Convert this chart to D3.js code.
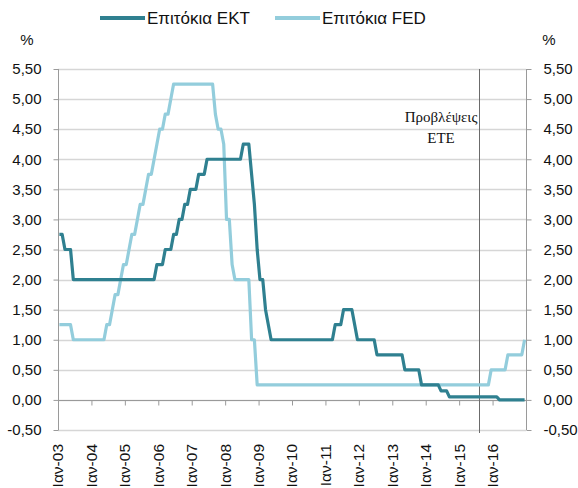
<!DOCTYPE html>
<html>
<head>
<meta charset="utf-8">
<script src="https://cdn.jsdelivr.net/npm/d3@7"></script>
<style>
  html, body { margin: 0; padding: 0; background: #fff; }
  svg { display: block; }
  .lbl { font-family: "Liberation Sans", Arial, sans-serif; }
</style>
</head>
<body>
<svg id="chart" width="578" height="488"></svg>
<script>
// Year tick labels on the category axis (one per January)
const yearLabels = ["Ιαν-03","Ιαν-04","Ιαν-05","Ιαν-06","Ιαν-07","Ιαν-08","Ιαν-09",
                    "Ιαν-10","Ιαν-11","Ιαν-12","Ιαν-13","Ιαν-14","Ιαν-15","Ιαν-16"];

// Y tick values (%)
const yTicks = [-0.5, 0, 0.5, 1, 1.5, 2, 2.5, 3, 3.5, 4, 4.5, 5, 5.5];

// ECB main refinancing rate, monthly Jan 2003 – Dec 2016
const ecbRate = [
  2.75,2.75,2.50,2.50,2.50,2.00,2.00,2.00,2.00,2.00,2.00,2.00, // 2003
  2.00,2.00,2.00,2.00,2.00,2.00,2.00,2.00,2.00,2.00,2.00,2.00, // 2004
  2.00,2.00,2.00,2.00,2.00,2.00,2.00,2.00,2.00,2.00,2.00,2.25, // 2005
  2.25,2.25,2.50,2.50,2.50,2.75,2.75,3.00,3.00,3.25,3.25,3.50, // 2006
  3.50,3.50,3.75,3.75,3.75,4.00,4.00,4.00,4.00,4.00,4.00,4.00, // 2007
  4.00,4.00,4.00,4.00,4.00,4.00,4.25,4.25,4.25,3.75,3.25,2.50, // 2008
  2.00,2.00,1.50,1.25,1.00,1.00,1.00,1.00,1.00,1.00,1.00,1.00, // 2009
  1.00,1.00,1.00,1.00,1.00,1.00,1.00,1.00,1.00,1.00,1.00,1.00, // 2010
  1.00,1.00,1.00,1.25,1.25,1.25,1.50,1.50,1.50,1.50,1.25,1.00, // 2011
  1.00,1.00,1.00,1.00,1.00,1.00,0.75,0.75,0.75,0.75,0.75,0.75, // 2012
  0.75,0.75,0.75,0.75,0.50,0.50,0.50,0.50,0.50,0.50,0.25,0.25, // 2013
  0.25,0.25,0.25,0.25,0.25,0.15,0.15,0.15,0.05,0.05,0.05,0.05, // 2014
  0.05,0.05,0.05,0.05,0.05,0.05,0.05,0.05,0.05,0.05,0.05,0.05, // 2015
  0.05,0.05,0.00,0.00,0.00,0.00,0.00,0.00,0.00,0.00,0.00,0.00  // 2016
];

// Fed funds target rate, monthly Jan 2003 – Dec 2016
const fedRate = [
  1.25,1.25,1.25,1.25,1.25,1.00,1.00,1.00,1.00,1.00,1.00,1.00, // 2003
  1.00,1.00,1.00,1.00,1.00,1.25,1.25,1.50,1.75,1.75,2.00,2.25, // 2004
  2.25,2.50,2.75,2.75,3.00,3.25,3.25,3.50,3.75,3.75,4.00,4.25, // 2005
  4.50,4.50,4.75,4.75,5.00,5.25,5.25,5.25,5.25,5.25,5.25,5.25, // 2006
  5.25,5.25,5.25,5.25,5.25,5.25,5.25,5.25,4.75,4.50,4.50,4.25, // 2007
  3.00,3.00,2.25,2.00,2.00,2.00,2.00,2.00,2.00,1.00,1.00,0.25, // 2008
  0.25,0.25,0.25,0.25,0.25,0.25,0.25,0.25,0.25,0.25,0.25,0.25, // 2009
  0.25,0.25,0.25,0.25,0.25,0.25,0.25,0.25,0.25,0.25,0.25,0.25, // 2010
  0.25,0.25,0.25,0.25,0.25,0.25,0.25,0.25,0.25,0.25,0.25,0.25, // 2011
  0.25,0.25,0.25,0.25,0.25,0.25,0.25,0.25,0.25,0.25,0.25,0.25, // 2012
  0.25,0.25,0.25,0.25,0.25,0.25,0.25,0.25,0.25,0.25,0.25,0.25, // 2013
  0.25,0.25,0.25,0.25,0.25,0.25,0.25,0.25,0.25,0.25,0.25,0.25, // 2014
  0.25,0.25,0.25,0.25,0.25,0.25,0.25,0.25,0.25,0.25,0.25,0.50, // 2015
  0.50,0.50,0.50,0.50,0.50,0.75,0.75,0.75,0.75,0.75,0.75,1.00  // 2016
];

// Month index where the forecast period begins (Aug 2015)
const forecastStart = 151;

const seriesNames = ["Επιτόκια ΕΚΤ", "Επιτόκια FED"];
const seriesColors = ["#2f8090", "#93cddc"];

const svg = d3.select("#chart");
const plotLeft = 58, plotRight = 526, plotTop = 69, plotBottom = 430;
const nMonths = ecbRate.length;

const x = d3.scaleLinear().domain([0, nMonths]).range([plotLeft, plotRight]);
const y = d3.scaleLinear().domain([-0.5, 5.5]).range([plotBottom, plotTop]);
// Greek number style: comma decimal, plain hyphen for negatives
const fmt = v => (v < 0 ? "-" : "") + Math.abs(v).toFixed(2).replace(".", ",");

// horizontal gridlines
svg.append("g").selectAll("line").data(yTicks).join("line")
  .attr("x1", plotLeft).attr("x2", plotRight)
  .attr("y1", d => Math.round(y(d)) + 0.5).attr("y2", d => Math.round(y(d)) + 0.5)
  .attr("stroke", "#d6d6d6").attr("stroke-width", 1.3);

// left axis
const gL = svg.append("g").attr("transform", `translate(${plotLeft + 0.5},0)`)
  .call(d3.axisLeft(y).tickValues(yTicks).tickSize(5).tickPadding(12).tickFormat(fmt));
// right axis
const gR = svg.append("g").attr("transform", `translate(${plotRight + 0.5},0)`)
  .call(d3.axisRight(y).tickValues(yTicks).tickSize(5).tickPadding(12).tickFormat(fmt));
[gL, gR].forEach(g => {
  g.select(".domain").attr("stroke", "#9a9a9a").attr("d",
    `M0,${y(5.5)}V${y(-0.5)}`);
  g.selectAll(".tick line").attr("stroke", "#9a9a9a");
  g.selectAll(".tick text").attr("class", "lbl").attr("font-size", 15).attr("fill", "#111");
});

// category axis along the zero line, labels at the bottom
const yearIdx = yearLabels.map((_, i) => i * 12);
const gX = svg.append("g").attr("transform", `translate(0,${Math.round(y(0)) + 0.5})`)
  .call(d3.axisBottom(x).tickValues(yearIdx).tickSize(5).tickFormat(""));
gX.select(".domain").attr("stroke", "#9a9a9a").attr("d", `M${plotLeft},0H${plotRight}`);
gX.selectAll(".tick line").attr("stroke", "#9a9a9a");

svg.append("g").selectAll("text").data(yearLabels).join("text")
  .attr("class", "lbl")
  .attr("transform", (d, i) => `translate(${x(yearIdx[i])},444) rotate(-90)`)
  .attr("text-anchor", "end").attr("dy", "0.35em")
  .attr("font-size", 15.5).attr("fill", "#111")
  .text(d => d);

// % units
svg.append("text").attr("class", "lbl").attr("x", 27).attr("y", 45)
  .attr("text-anchor", "middle").attr("font-size", 15).attr("fill", "#111").text("%");
svg.append("text").attr("class", "lbl").attr("x", 549).attr("y", 45)
  .attr("text-anchor", "middle").attr("font-size", 15).attr("fill", "#111").text("%");

// forecast divider
svg.append("line")
  .attr("x1", Math.round(x(forecastStart)) + 0.5).attr("x2", Math.round(x(forecastStart)) + 0.5)
  .attr("y1", plotTop).attr("y2", plotBottom + 3)
  .attr("stroke", "#6b6b6b").attr("stroke-width", 1);
const ann = svg.append("text").attr("font-family", "Liberation Serif, 'DejaVu Serif', serif")
  .attr("font-size", 15).attr("fill", "#111").attr("text-anchor", "middle");
ann.append("tspan").attr("x", 441).attr("y", 122).text("Προβλέψεις");
ann.append("tspan").attr("x", 441).attr("y", 143).text("ΕΤΕ");

// series lines
const line = d3.line().x((d, i) => x(i + 0.5)).y(d => y(d)).curve(d3.curveLinear);
[fedRate, ecbRate].forEach((s, k) => {
  svg.append("path").datum(s)
    .attr("fill", "none")
    .attr("stroke", k === 0 ? seriesColors[1] : seriesColors[0])
    .attr("stroke-width", 3.2)
    .attr("stroke-linejoin", "round")
    .attr("d", line);
});

// legend
const legendX = [100, 275];
seriesNames.forEach((name, i) => {
  svg.append("line").attr("x1", legendX[i]).attr("x2", legendX[i] + 45)
    .attr("y1", 18).attr("y2", 18)
    .attr("stroke", seriesColors[i]).attr("stroke-width", 4);
  svg.append("text").attr("class", "lbl").attr("x", legendX[i] + 47).attr("y", 24)
    .attr("font-size", 17).attr("fill", "#111").text(name);
});
</script>
</body>
</html>
